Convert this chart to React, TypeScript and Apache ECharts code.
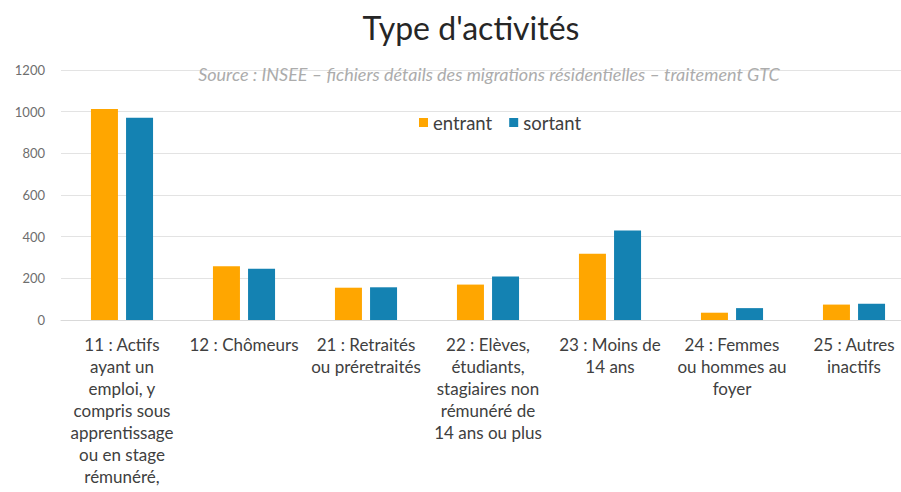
import React, { useEffect, useRef } from "react";
import * as echarts from "echarts";

const categories = [
  "11 : Actifs\nayant un\nemploi, y\ncompris sous\napprentissage\nou en stage\nrémunéré,",
  "12 : Chômeurs",
  "21 : Retraités\nou préretraités",
  "22 : Elèves,\nétudiants,\nstagiaires non\nrémunéré de\n14 ans ou plus",
  "23 : Moins de\n14 ans",
  "24 : Femmes\nou hommes au\nfoyer",
  "25 : Autres\ninactifs",
];
const entrant = [1013, 258, 155, 170, 318, 35, 74];
const sortant = [971, 246, 157, 209, 430, 57, 78];
const titleText = "Type d'activités";
const subtitleText = "Source : INSEE – fichiers détails des migrations résidentielles – traitement GTC";

const FONT = "Lato, 'Open Sans', sans-serif";

export default function App() {
  const ref = useRef<HTMLDivElement>(null);
  useEffect(() => {
    if (!ref.current) return;
    const chart = echarts.init(ref.current, null, { renderer: "svg" });
    chart.setOption({
      animation: false,
      backgroundColor: "#ffffff",
      textStyle: { fontFamily: FONT },
      title: [
        {
          text: titleText,
          left: 466,
          textAlign: "center",
          top: 6,
          textStyle: { fontSize: 32, fontWeight: "normal", color: "#262626", fontFamily: FONT },
        },
        {
          text: subtitleText,
          left: 484,
          textAlign: "center",
          top: 60,
          textStyle: { fontSize: 18, fontStyle: "italic", fontWeight: "normal", color: "#acacac", fontFamily: FONT },
        },
      ],
      legend: {
        left: 414,
        top: 108,
        itemWidth: 9,
        itemHeight: 9,
        itemGap: 17,
        icon: "rect",
        textStyle: { fontSize: 18.5, color: "#404040", fontFamily: FONT },
        data: ["entrant", "sortant"],
      },
      grid: { left: 61, right: 0, top: 70, bottom: 172, containLabel: false },
      xAxis: {
        type: "category",
        data: categories,
        axisTick: { show: false },
        axisLine: { lineStyle: { color: "#d9d9d9" } },
        axisLabel: {
          interval: 0,
          color: "#404040",
          fontSize: 17,
          lineHeight: 22,
          margin: 13,
          fontFamily: FONT,
        },
      },
      yAxis: {
        type: "value",
        min: 0,
        max: 1200,
        interval: 200,
        axisLine: { show: false },
        axisTick: { show: false },
        splitLine: { lineStyle: { color: "#e3e3e3" } },
        axisLabel: {
          color: "#6e6e6e",
          fontSize: 13,
          margin: 16,
          fontFamily: FONT,
          formatter: (v: number) => String(v),
        },
      },
      series: [
        {
          name: "entrant",
          type: "bar",
          data: entrant,
          barWidth: 27,
          barGap: "30%",
          itemStyle: { color: "#FFA600" },
        },
        {
          name: "sortant",
          type: "bar",
          data: sortant,
          barWidth: 27,
          barGap: "30%",
          itemStyle: { color: "#1482B2" },
        },
      ],
    });
    return () => chart.dispose();
  }, []);
  return (
    <div style={{ position: "absolute", left: 0, top: 0, width: 901, height: 492, overflow: "hidden", background: "#fff" }}>
      <div ref={ref} style={{ width: 915, height: 492 }} />
    </div>
  );
}
